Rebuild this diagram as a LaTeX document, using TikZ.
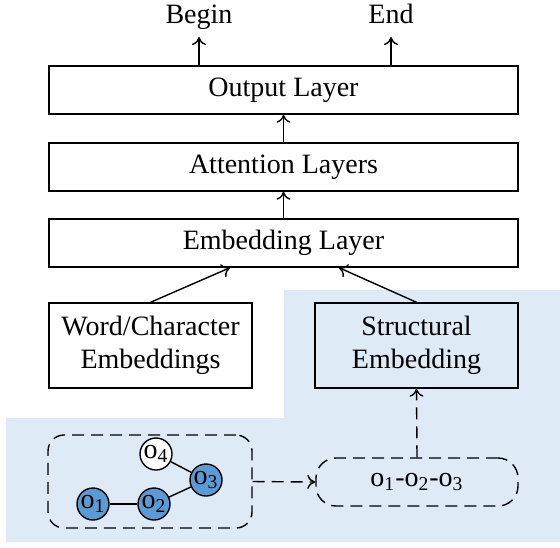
\documentclass[tikz,border=0pt]{standalone}
\usepackage{fontspec}
\setmainfont{LiberationSerif}[Extension=.ttf, UprightFont=*-Regular, BoldFont=*-Bold, ItalicFont=*-Italic, BoldItalicFont=*-BoldItalic]
\usetikzlibrary{arrows.meta}
\definecolor{bgblue}{HTML}{DEEAF6}
\definecolor{nodeblue}{HTML}{5B9BD5}
\begin{document}
\begin{tikzpicture}[x=0.5pt,y=-0.5pt,
  font=\rmfamily\fontsize{14}{16.5}\selectfont,
  line width=0.7pt,
  >={To[length=4pt,width=7pt]},
  layerbox/.style={draw, minimum width=234.5pt, minimum height=24pt, inner sep=0pt},
  embbox/.style={draw, minimum width=101.5pt, minimum height=42.5pt, inner sep=0pt, align=center},
  toplbl/.style={anchor=south, inner sep=0pt, text depth=6.5pt},
  onode/.style={circle, draw, minimum size=16pt, inner sep=0pt},
  dashline/.style={dash pattern=on 6pt off 3.5pt}
]
\useasboundingbox (0,0) rectangle (560,547);
% background
\fill[bgblue] (284,290) -- (560,290) -- (560,542) -- (6,542) -- (6,418) -- (284,418) -- cycle;

% layers
\node[layerbox] (out) at (283.5,90) {Output Layer};
\node[layerbox] (att) at (283.5,167) {Attention Layers};
\node[layerbox] (emb) at (283.5,243) {Embedding Layer};

\node[toplbl] (begin) at (199,37) {Begin};
\node[toplbl] (end) at (391,37) {End};

\draw[->] (out.north -| begin) -- (begin.south);
\draw[->] (out.north -| end) -- (end.south);
\draw[->] (att.north) -- (out.south);
\draw[->] (emb.north) -- (att.south);

% embeddings
\node[embbox] (word) at (150.5,345.5) {Word/Character\\Embeddings};
\node[embbox] (struct) at (416.5,345.5) {Structural\\Embedding};

\path (emb.south) ++(-53.5,0) coordinate (e1);
\path (emb.south) ++(55.5,0) coordinate (e2);
\draw[->] (word.north) -- (e1);
\draw[->] (struct.north) -- (e2);

% graph box
\node[draw, dashline, rounded corners=8pt, minimum width=102pt, minimum height=46.5pt, inner sep=0pt] (gbox) at (150,481.5) {};
\node[onode, fill=nodeblue] (o1) at (93,504) {o\textsubscript{1}};
\node[onode, fill=nodeblue] (o2) at (154,504) {o\textsubscript{2}};
\node[onode, fill=nodeblue] (o3) at (206,480) {o\textsubscript{3}};
\node[onode, fill=white] (o4) at (156,454) {o\textsubscript{4}};
\draw (o1) -- (o2);
\draw (o2) -- (o3);
\draw (o4) -- (o3);

% path pill
\node[draw, dashline, rounded corners=10pt, minimum width=101pt, minimum height=24pt, inner sep=0pt] (pill) at (417,482) {o\textsubscript{1}-o\textsubscript{2}-o\textsubscript{3}};

\draw[->, dashline] (gbox.east) -- (pill.west);
\draw[->, dashline] (pill.north) -- (struct.south);
\end{tikzpicture}
\end{document}
